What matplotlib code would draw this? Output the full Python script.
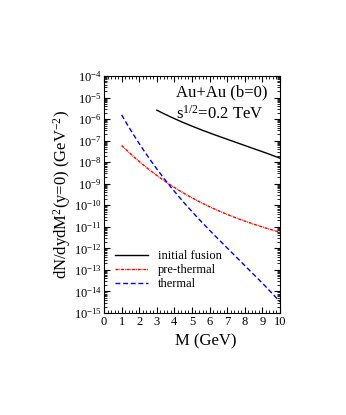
import numpy as np
import matplotlib
matplotlib.use("Agg")
import matplotlib.pyplot as plt
from matplotlib.ticker import FixedLocator, MultipleLocator, NullFormatter

plt.rcParams['font.family'] = ['Liberation Serif', 'DejaVu Serif']
plt.rcParams['mathtext.fontset'] = 'custom'
plt.rcParams['mathtext.rm'] = 'Liberation Serif'
plt.rcParams['mathtext.it'] = 'Liberation Serif:italic'

# data (log10 of dN/dydM^2)
m_fusion = [3, 4, 5, 6, 7, 8, 9, 10]
logy_fusion = [-5.58, -5.99, -6.33, -6.63, -6.94, -7.22, -7.52, -7.81]
m_pre = [1, 2, 3, 3.7, 5, 6, 7, 8, 9, 10]
logy_pre = [-7.26, -7.9, -8.6, -9.07, -9.67, -10.07, -10.4, -10.74, -11.0, -11.26]
m_th = [1, 2, 2.7, 3.6, 5, 6, 7, 8, 9, 10]
logy_th = [-5.86, -7.05, -7.9, -9.07, -10.3, -11.15, -12.0, -12.75, -13.6, -14.5]
labels = ["initial fusion", "pre-thermal", "thermal"]

def smooth(x, y, n=200):
    x = np.asarray(x, float); y = np.asarray(y, float)
    xs = np.linspace(x[0], x[-1], n)
    p = np.polyfit(x, y, 3)
    return xs, 10 ** np.polyval(p, xs)

fig = plt.figure(figsize=(3.46, 4.15), dpi=100)
ax = fig.add_axes([0.3006, 0.2458, 0.5084, 0.5711])

x, y = smooth(m_fusion, logy_fusion)
ax.plot(x, y, color='black', lw=1.0, label=labels[0])
x, y = smooth(m_pre, logy_pre)
ax.plot(x, y, color='red', lw=1.0, ls=(0, (2.2, 0.6, 0.6, 0.6)), label=labels[1])
x, y = smooth(m_th, logy_th)
ax.plot(x, y, color='blue', lw=1.0, ls=(0, (3.5, 2)), label=labels[2])

ax.set_yscale('log')
ax.set_xlim(0, 10)
ax.set_ylim(1e-15, 1e-4)
ax.xaxis.set_major_locator(MultipleLocator(1))
ax.xaxis.set_minor_locator(MultipleLocator(0.2))
ax.yaxis.set_major_locator(FixedLocator([10.0 ** k for k in range(-15, -3)]))
ax.yaxis.set_minor_locator(FixedLocator([j * 10.0 ** k for k in range(-15, -4) for j in range(2, 10)]))
ax.yaxis.set_minor_formatter(NullFormatter())
ax.set_yticklabels([r'$10^{%d}$' % k for k in range(-15, -3)])
ax.tick_params(which='both', direction='in', top=True, right=True, labelsize=9)
ax.tick_params(axis='y', pad=1.5)
ax.tick_params(axis='x', pad=2.5)
ax.tick_params(which='major', length=4)
ax.tick_params(which='minor', length=2)
ax.set_xlabel('M (GeV)', fontsize=12)
ax.xaxis.set_label_coords(0.58, -0.085)
ax.set_ylabel(r'dN/dydM$^2$(y=0) (GeV$^{-2}$)', fontsize=12)
ax.yaxis.set_label_coords(-0.175, 0.5)

ax.text(0.41, 0.93, 'Au+Au (b=0)', transform=ax.transAxes, fontsize=12, va='center')
ax.text(0.41, 0.84, r's$^{1/2}$=0.2 TeV', transform=ax.transAxes, fontsize=12, va='center')

ax.legend(loc='lower left', frameon=False, fontsize=9, handlelength=2.6,
          labelspacing=0.15, borderaxespad=0.5, bbox_to_anchor=(0.0, 0.05))

fig.savefig('out.png', dpi=100)
